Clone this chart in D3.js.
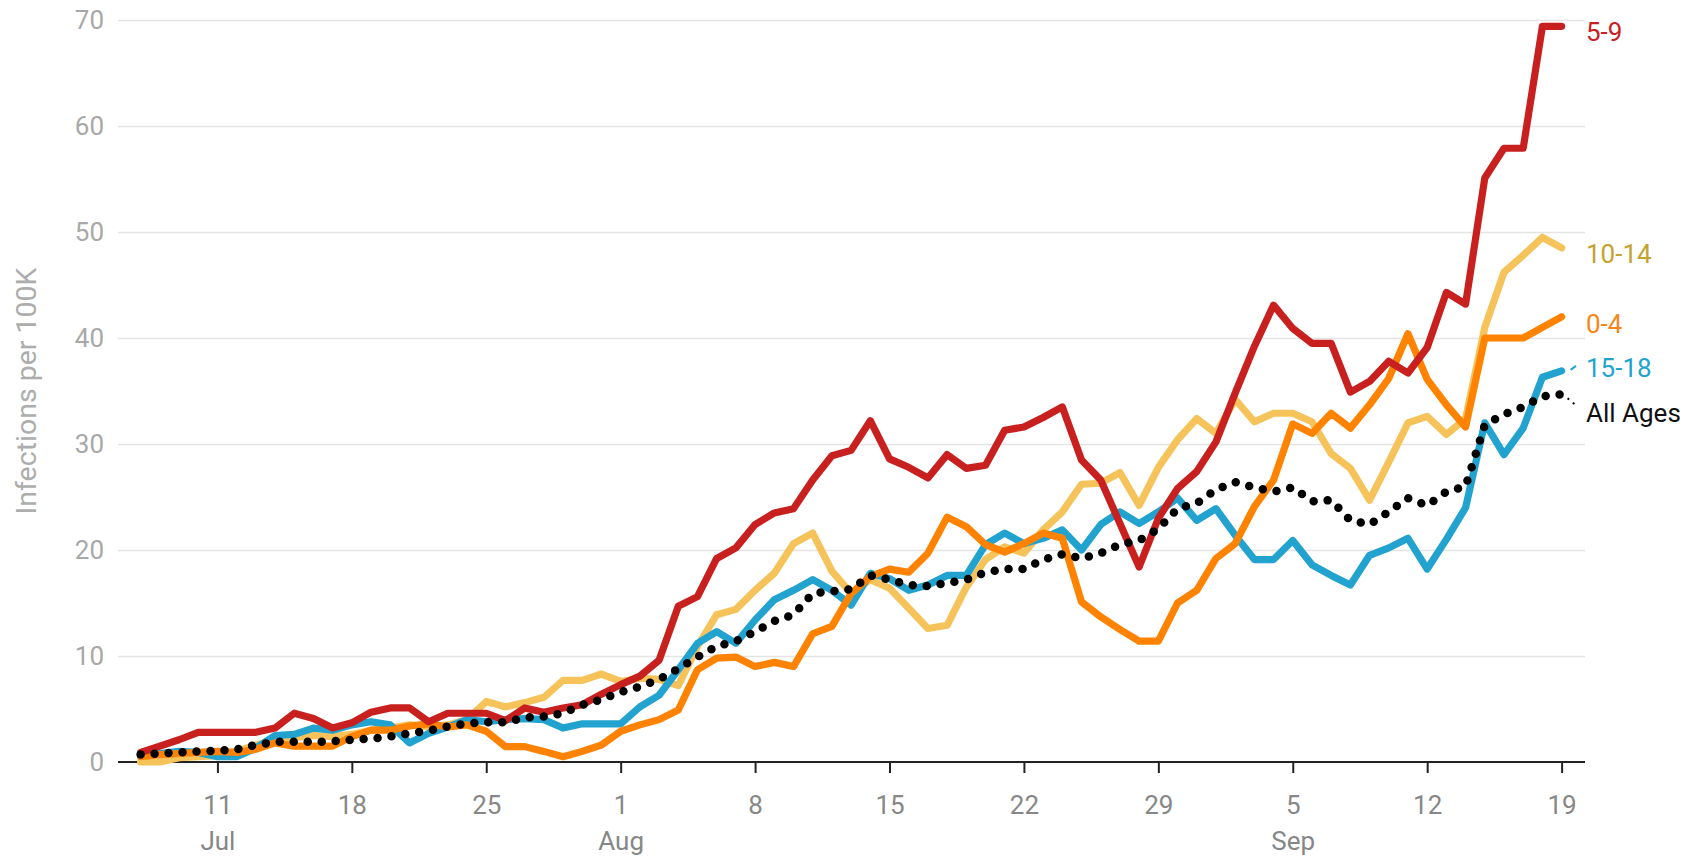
<!DOCTYPE html>
<html>
<head>
<meta charset="utf-8">
<script src="https://cdn.jsdelivr.net/npm/d3@7"></script>
<style>
  body { margin: 0; background: #fff; }
  svg { font-family: Roboto, "Noto Sans", sans-serif; display: block; }
</style>
</head>
<body>
<svg id="chart"></svg>
<script>
var width = 1701, height = 857;

// daily values, Jul 7 .. Sep 19
var startDay = new Date(Date.UTC(2021, 6, 7));
var endDay = new Date(Date.UTC(2021, 8, 19));
var days = d3.utcDay.range(startDay, d3.utcDay.offset(endDay, 1));

var age0_4 = [0.5,0.7,0.8,0.9,1.0,0.9,1.2,1.8,1.5,1.5,
  1.5,2.4,3.0,3.0,3.4,3.6,3.3,3.5,2.9,1.45,
  1.45,1.0,0.5,1.0,1.6,2.9,3.5,4.0,4.9,8.7,
  9.8,9.9,9.0,9.4,9.0,12.1,12.8,15.9,17.5,18.2,
  17.9,19.7,23.1,22.2,20.5,19.8,20.6,21.6,21.1,15.1,
  13.7,12.5,11.4,11.4,15.0,16.2,19.2,20.6,24.1,26.6,
  31.9,31.0,32.9,31.5,33.7,36.2,40.4,36.1,33.7,31.6,
  40.0,40.0,40.0,41.0,42.0];
var age5_9 = [0.9,1.5,2.1,2.8,2.8,2.8,2.8,3.2,4.6,4.1,
  3.2,3.7,4.7,5.1,5.1,3.8,4.6,4.6,4.6,3.9,
  5.1,4.7,5.1,5.4,6.4,7.3,8.1,9.6,14.7,15.6,
  19.2,20.2,22.4,23.5,23.9,26.6,28.9,29.4,32.2,28.6,
  27.8,26.8,29.0,27.7,28.0,31.3,31.6,32.5,33.5,28.5,
  26.6,22.5,18.4,23.0,25.8,27.4,30.2,34.8,39.2,43.1,
  40.9,39.5,39.5,34.9,35.9,37.8,36.7,39.1,44.3,43.2,
  55.1,57.9,57.9,69.4,69.4];
var age10_14 = [0.0,0.0,0.4,0.5,0.6,1.0,1.6,2.0,2.3,2.5,
  2.4,2.6,3.0,3.2,3.5,3.3,3.5,4.0,5.7,5.2,
  5.6,6.1,7.7,7.7,8.3,7.6,7.9,7.8,7.2,10.9,
  13.9,14.4,16.2,17.8,20.6,21.6,18.0,15.9,17.2,16.4,
  14.5,12.6,12.9,16.5,19.1,20.3,19.7,21.9,23.6,26.2,
  26.3,27.3,24.2,27.8,30.4,32.4,31.0,34.2,32.1,32.9,
  32.9,32.1,29.1,27.7,24.7,28.3,32.0,32.6,30.9,32.4,
  41.0,46.2,47.8,49.5,48.5];
var age15_18 = [0.65,0.8,1.0,0.9,0.5,0.5,1.3,2.5,2.6,3.2,
  3.0,3.5,3.8,3.5,1.8,2.7,3.3,4.0,3.8,4.0,
  4.1,4.0,3.2,3.6,3.6,3.6,5.2,6.3,8.7,11.2,
  12.3,11.2,13.4,15.3,16.2,17.2,16.2,14.8,17.8,17.3,
  16.2,16.7,17.6,17.6,20.5,21.6,20.6,21.1,21.9,20.0,
  22.4,23.6,22.5,23.6,24.9,22.8,23.9,21.4,19.1,19.1,
  20.9,18.6,17.6,16.7,19.5,20.2,21.1,18.2,21.0,24.0,
  32.0,29.0,31.5,36.3,36.9];
var allAges = [0.7,0.8,0.9,1.0,1.05,1.2,1.6,1.9,1.9,1.9,
  1.95,2.1,2.2,2.4,2.7,2.95,3.35,3.65,3.75,3.75,
  4.2,4.3,4.6,5.4,5.9,6.6,7.1,7.8,8.8,9.9,
  10.9,11.4,12.3,13.3,13.9,15.9,16.1,16.3,17.6,17.2,
  16.7,16.6,16.9,17.2,17.9,18.2,18.2,19.1,19.6,19.2,
  19.7,20.5,20.9,22.0,23.9,24.4,25.7,26.4,25.9,25.5,
  25.9,24.6,24.7,22.8,22.4,23.6,24.9,24.2,25.5,26.0,
  31.8,32.8,33.5,34.5,34.7];

var yTicks = [0, 10, 20, 30, 40, 50, 60, 70];
var xTicks = ["2021-07-11","2021-07-18","2021-07-25","2021-08-01","2021-08-08",
  "2021-08-15","2021-08-22","2021-08-29","2021-09-05","2021-09-12","2021-09-19"];

// series in drawing order (bottom to top)
var series = [
  {name: "10-14", values: age10_14, color: "#f6c35b", label: "#c4a22e", nudge: 6},
  {name: "15-18", values: age15_18, color: "#22a3cf", label: "#22a3cf", nudge: -3},
  {name: "0-4", values: age0_4, color: "#ff8300", label: "#f7861a", nudge: 7},
  {name: "5-9", values: age5_9, color: "#c8201f", label: "#c8201f", nudge: 6},
  {name: "All Ages", values: allAges, color: "#000", label: "#111", nudge: 19, dotted: true}
];

var plotLeft = 118, plotRight = 1585, plotTop = 20, plotBottom = 762;
var fontFam = "Roboto, 'Noto Sans', sans-serif";

var svg = d3.select("svg")
    .attr("width", width)
    .attr("height", height);

var x = d3.scaleUtc()
    .domain([startDay, endDay])
    .range([140.6, 1561.6]);
var y = d3.scaleLinear()
    .domain([0, 70])
    .range([plotBottom, plotTop]);

// y grid + labels
var yAxis = svg.append("g")
    .attr("transform", "translate(" + plotLeft + ",0)")
    .call(d3.axisLeft(y).tickValues(yTicks).tickSize(-(plotRight - plotLeft)).tickPadding(14))
    .attr("font-family", fontFam)
    .attr("font-size", 26);
yAxis.select(".domain").remove();
yAxis.selectAll(".tick line")
    .attr("stroke", "#e4e4e4")
    .attr("stroke-width", 1.6);
yAxis.selectAll(".tick text")
    .attr("fill", "#a8a8a8");

svg.append("text")
    .attr("transform", "translate(36," + ((plotTop + plotBottom) / 2) + ") rotate(-90)")
    .attr("text-anchor", "middle")
    .attr("fill", "#adadad")
    .style("font-size", "28.5px")
    .text("Infections per 100K");

// x axis
var tickDates = xTicks.map(function(s) { return new Date(s + "T00:00:00Z"); });
var xAxis = svg.append("g")
    .attr("transform", "translate(0," + plotBottom + ")")
    .call(d3.axisBottom(x).tickValues(tickDates).tickSize(11).tickFormat(d3.utcFormat("%-d")))
    .attr("font-family", fontFam)
    .attr("font-size", 26);
xAxis.select(".domain").remove();
xAxis.selectAll(".tick line")
    .attr("stroke", "#222")
    .attr("stroke-width", 2);
xAxis.selectAll(".tick text")
    .attr("fill", "#878787")
    .attr("y", 52)
    .attr("dy", 0);

var lastMonth = -1;
xAxis.selectAll(".tick").each(function(d) {
  if (d.getUTCMonth() != lastMonth) {
    lastMonth = d.getUTCMonth();
    d3.select(this).append("text")
      .attr("y", 88)
      .attr("fill", "#878787")
      .attr("text-anchor", "middle")
      .text(d3.utcFormat("%b")(d));
  }
});

svg.append("line")
    .attr("x1", plotLeft).attr("x2", plotRight)
    .attr("y1", plotBottom).attr("y2", plotBottom)
    .attr("stroke", "#222")
    .attr("stroke-width", 2);

// lines
var line = d3.line()
    .x(function(d, i) { return x(days[i]); })
    .y(function(d) { return y(d); });

series.forEach(function(s) {
  var p = svg.append("path")
      .datum(s.values)
      .attr("fill", "none")
      .attr("stroke", s.color)
      .attr("stroke-linecap", "round")
      .attr("stroke-linejoin", "round")
      .attr("d", line);
  if (s.dotted) {
    p.attr("stroke-width", 8.5).attr("stroke-dasharray", "0,14");
  } else {
    p.attr("stroke-width", 7.2);
  }
});

// end labels
var labelX = 1586;
series.forEach(function(s) {
  var ex = x(days[days.length - 1]);
  var ey = y(s.values[s.values.length - 1]);
  var ly = ey + s.nudge;
  if (Math.abs(s.nudge) > 10) {
    svg.append("line")
      .attr("x1", ex + 6).attr("y1", ey + 4)
      .attr("x2", labelX - 8).attr("y2", ly - 6)
      .attr("stroke", s.color)
      .attr("stroke-width", 2)
      .attr("stroke-dasharray", "2,5");
  } else if (s.nudge < 0) {
    svg.append("line")
      .attr("x1", ex + 9).attr("y1", ey - 1)
      .attr("x2", labelX - 10).attr("y2", ly - 2)
      .attr("stroke", s.color)
      .attr("stroke-width", 2);
  }
  svg.append("text")
      .attr("x", labelX)
      .attr("y", ly)
      .attr("dy", "0.35em")
      .attr("fill", s.label)
      .style("font-size", "26px")
      .text(s.name);
});
</script>
</body>
</html>
